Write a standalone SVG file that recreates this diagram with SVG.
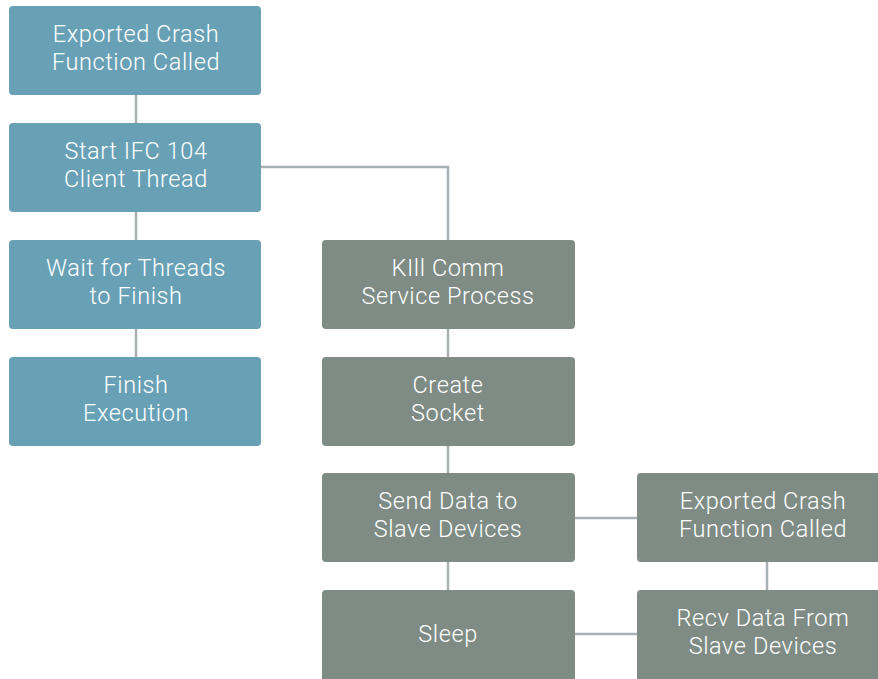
<svg xmlns="http://www.w3.org/2000/svg" width="878" height="679" viewBox="0 0 878 679">
<style>
.b{fill:#68a1b6}
.g{fill:#7e8c85}
text{fill:#ffffff;font-family:Roboto,"Liberation Sans",sans-serif;font-size:23.5px;letter-spacing:0.6px;text-anchor:middle;font-weight:300}
.c{stroke:#a8b0b3;stroke-width:2.5;fill:none}
</style>
<rect width="878" height="679" fill="#ffffff"/>
<g id="connectors">
<line class="c" x1="136" y1="95" x2="136" y2="123"/>
<line class="c" x1="136" y1="212" x2="136" y2="240"/>
<line class="c" x1="136" y1="329" x2="136" y2="357"/>
<polyline class="c" points="261,167 448,167 448,240"/>
<line class="c" x1="448" y1="329" x2="448" y2="357"/>
<line class="c" x1="448" y1="446" x2="448" y2="473"/>
<line class="c" x1="448" y1="562" x2="448" y2="590"/>
<line class="c" x1="575" y1="518" x2="637" y2="518"/>
<line class="c" x1="575" y1="634" x2="637" y2="634"/>
<line class="c" x1="767" y1="562" x2="767" y2="590"/>
</g>
<g id="n1"><rect class="b" x="9" y="6" width="252" height="89" rx="4"/><text x="136" y="42">Exported Crash</text><text x="136" y="70">Function Called</text></g>
<g id="n2"><rect class="b" x="9" y="123" width="252" height="89" rx="4"/><text x="136" y="159">Start IFC 104</text><text x="136" y="187">Client Thread</text></g>
<g id="n3"><rect class="b" x="9" y="240" width="252" height="89" rx="4"/><text x="136" y="276">Wait for Threads</text><text x="136" y="304">to Finish</text></g>
<g id="n4"><rect class="b" x="9" y="357" width="252" height="89" rx="4"/><text x="136" y="393">Finish</text><text x="136" y="421">Execution</text></g>
<g id="n5"><rect class="g" x="322" y="240" width="253" height="89" rx="4"/><text x="448" y="276">KIll Comm</text><text x="448" y="304">Service Process</text></g>
<g id="n6"><rect class="g" x="322" y="357" width="253" height="89" rx="4"/><text x="448" y="393">Create</text><text x="448" y="421">Socket</text></g>
<g id="n7"><rect class="g" x="322" y="473" width="253" height="89" rx="4"/><text x="448" y="509">Send Data to</text><text x="448" y="537">Slave Devices</text></g>
<g id="n8"><rect class="g" x="322" y="590" width="253" height="92" rx="4"/><text x="448" y="642">Sleep</text></g>
<g id="n9"><rect class="g" x="637" y="473" width="250" height="89" rx="4"/><text x="763" y="509">Exported Crash</text><text x="763" y="537">Function Called</text></g>
<g id="n10"><rect class="g" x="637" y="590" width="250" height="92" rx="4"/><text x="763" y="626">Recv Data From</text><text x="763" y="654">Slave Devices</text></g>
</svg>
